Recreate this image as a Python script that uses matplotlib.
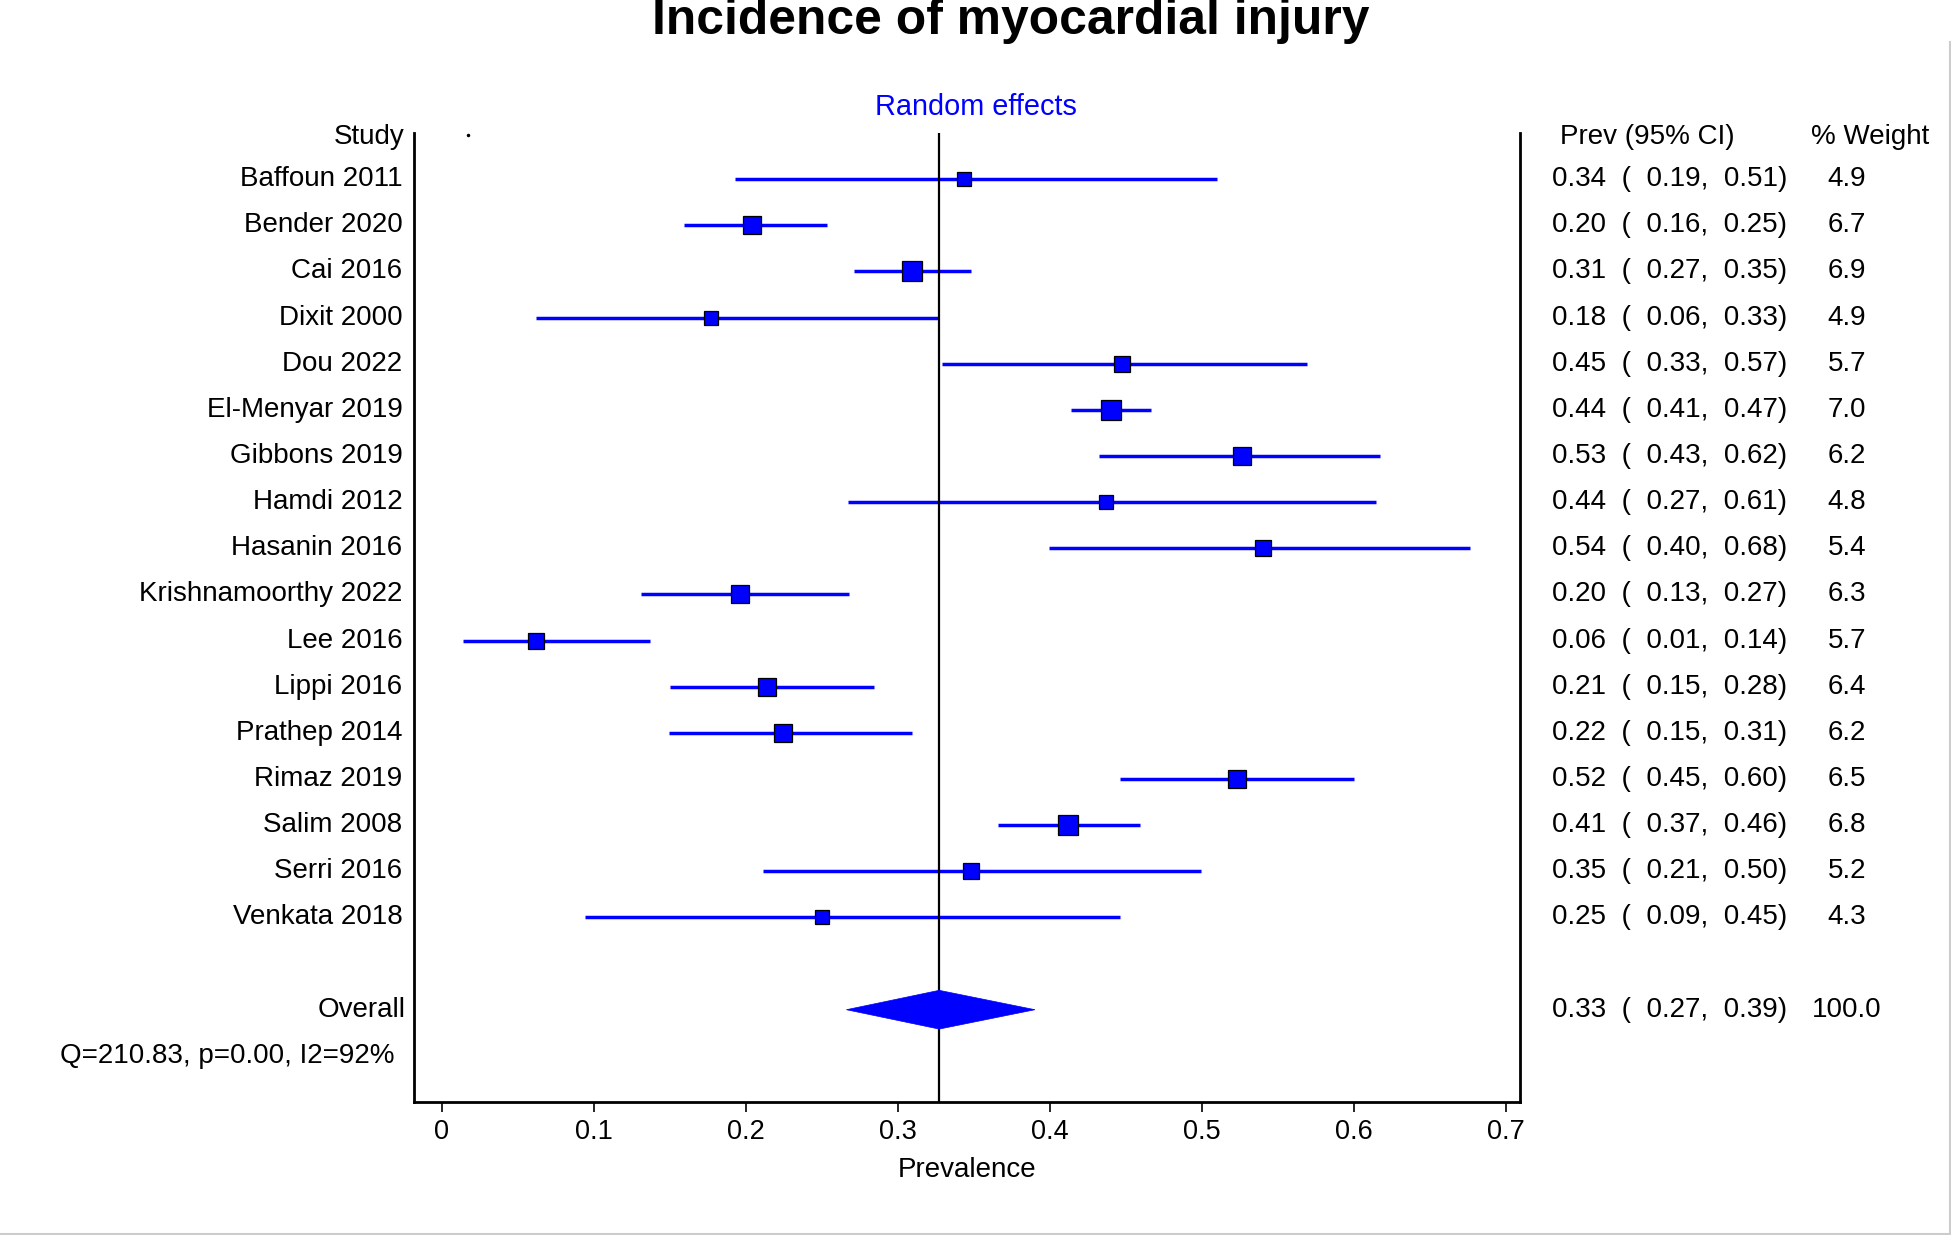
import matplotlib
matplotlib.use("Agg")
import matplotlib.pyplot as plt
from matplotlib.patches import Polygon
from matplotlib.lines import Line2D
import numpy as np

plt.rcParams['font.family'] = ['Liberation Sans', 'DejaVu Sans']

# ---------------- data ----------------
title = "Incidence of myocardial injury"
studies = ["Baffoun 2011", "Bender 2020", "Cai 2016", "Dixit 2000", "Dou 2022",
           "El-Menyar 2019", "Gibbons 2019", "Hamdi 2012", "Hasanin 2016",
           "Krishnamoorthy 2022", "Lee 2016", "Lippi 2016", "Prathep 2014",
           "Rimaz 2019", "Salim 2008", "Serri 2016", "Venkata 2018"]
prev = [0.343, 0.204, 0.309, 0.177, 0.447, 0.440, 0.526, 0.437, 0.540, 0.196,
        0.062, 0.214, 0.224, 0.523, 0.412, 0.348, 0.250]
lower = [0.193, 0.159, 0.271, 0.062, 0.329, 0.414, 0.432, 0.267, 0.399, 0.131,
         0.014, 0.150, 0.149, 0.446, 0.366, 0.211, 0.094]
upper = [0.510, 0.253, 0.348, 0.326, 0.569, 0.466, 0.617, 0.614, 0.676, 0.268,
         0.137, 0.284, 0.309, 0.600, 0.459, 0.499, 0.446]
weight = [4.9, 6.7, 6.9, 4.9, 5.7, 7.0, 6.2, 4.8, 5.4, 6.3, 5.7, 6.4, 6.2,
          6.5, 6.8, 5.2, 4.3]
overall_label = "Overall"
overall_prev = 0.327
overall_lower = 0.266
overall_upper = 0.390
overall_weight = 100.0
heterogeneity = "Q=210.83, p=0.00, I2=92%"
x_ticks = [0, 0.1, 0.2, 0.3, 0.4, 0.5, 0.6, 0.7]
x_tick_labels = ["0", "0.1", "0.2", "0.3", "0.4", "0.5", "0.6", "0.7"]
stray_dot_x = 0.017  # small artifact dot on header row

# ---------------- figure ----------------
FS = 20
fig = plt.figure(figsize=(19.51, 12.35), dpi=100)
ax = fig.add_axes([0.2122, 0.1077, 0.5669, 0.7846])
ax.set_xlim(-0.0184, 0.709)
ax.set_ylim(21, 0)

rows = np.arange(1, len(studies) + 1)
overall_row = len(studies) + 2
q_row = overall_row + 1

ax.hlines(rows, lower, upper, color='blue', lw=2.5, zorder=1)
ax.axvline(overall_prev, color='black', lw=1.6, zorder=2)
sizes = 14.0 * (np.array(weight) / max(weight)) ** 0.75
for r, p, s in zip(rows, prev, sizes):
    ax.plot(p, r, marker='s', ms=s, mfc='blue', mec='black', mew=0.9,
            linestyle='none', zorder=3)

hh = 0.42
diamond = Polygon([[overall_lower, overall_row], [overall_prev, overall_row - hh],
                   [overall_upper, overall_row], [overall_prev, overall_row + hh]],
                  closed=True, facecolor='blue', edgecolor='blue', lw=0.5, zorder=4)
ax.add_patch(diamond)
ax.plot(stray_dot_x, 0.05, marker='.', ms=3, color='black', zorder=3)

# spines / ticks
ax.spines['top'].set_visible(False)
for s in ['left', 'right', 'bottom']:
    ax.spines[s].set_linewidth(2.0)
ax.set_yticks([])
ax.set_xticks(x_ticks)
ax.set_xticklabels(x_tick_labels)
ax.tick_params(axis='x', length=7, width=1.2, labelsize=19.5, pad=5)
ax.set_xlabel("Prevalence", fontsize=20, labelpad=9)

# left labels
hdr = 0.08
ax.text(-0.0245, hdr, "Study", ha='right', va='center', fontsize=FS, clip_on=False)
for r, name in zip(rows, studies):
    ax.text(-0.026, r, name, ha='right', va='center', fontsize=FS, clip_on=False)
ax.text(-0.024, overall_row, overall_label, ha='right', va='center', fontsize=FS, clip_on=False)
ax.text(-0.031, q_row, heterogeneity, ha='right', va='center', fontsize=FS, clip_on=False)

# right columns
ax.text(0.7355, hdr, "Prev (95% CI)", ha='left', va='center', fontsize=FS, clip_on=False)
ax.text(0.939, hdr, "% Weight", ha='center', va='center', fontsize=FS, clip_on=False)
for r, p, lo, hi, w in zip(rows, prev, lower, upper, weight):
    ax.text(0.730, r, f"{p:.2f}  (  {lo:.2f},  {hi:.2f})", ha='left', va='center',
            fontsize=FS, clip_on=False)
    ax.text(0.924, r, f"{w:.1f}", ha='center', va='center', fontsize=FS, clip_on=False)
ax.text(0.730, overall_row, f"{overall_prev:.2f}  (  {overall_lower:.2f},  {overall_upper:.2f})",
        ha='left', va='center', fontsize=FS, clip_on=False)
ax.text(0.924, overall_row, f"{overall_weight:.1f}", ha='center', va='center',
        fontsize=FS, clip_on=False)

ax.text(0.351, -0.57, "Random effects", ha='center', va='center', fontsize=20.8,
        color='blue', clip_on=False)

fig.text(0.518, 0.983, title, ha='center', va='center', fontsize=35.8, fontweight='bold')

# screenshot border lines
fig.add_artist(Line2D([0.9993, 0.9993], [0, 1 - 42 / 1235], transform=fig.transFigure,
                      color='#cccccc', lw=1.5))
fig.add_artist(Line2D([0, 1], [0.0012, 0.0012], transform=fig.transFigure,
                      color='#cccccc', lw=1.5))

fig.savefig('out.png', dpi=100)
